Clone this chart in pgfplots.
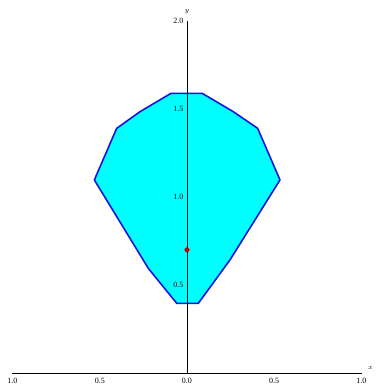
\documentclass[border=0pt]{standalone}
\usepackage{fontspec}
\setmainfont{Liberation Serif}
\usepackage{pgfplots}
\pgfplotsset{compat=1.18}

\definecolor{fillcyan}{RGB}{0,255,255}
\definecolor{edgeblue}{RGB}{20,20,220}
\definecolor{dotred}{RGB}{200,0,0}

\begin{document}
\begin{tikzpicture}
  \begin{axis}[
    name=ax,
    set layers,
    scale only axis,
    width=349pt, height=352pt,
    xmin=-1, xmax=1, ymin=0, ymax=2,
    axis lines=middle,
    axis line style={-, black, line width=0.8pt},
    hide obscured x ticks=false,
    hide obscured y ticks=false,
    xtick={-1,-0.5,0,0.5,1},
    xticklabels={1.0,0.5,0.0,0.5,1.0},
    ytick={0.5,1,1.5,2},
    yticklabels={0.5,1.0,1.5,2.0},
    major tick length=0pt,
    tick label style={font=\footnotesize},
    xticklabel style={yshift=-2pt},
    clip=false,
    xlabel={$x$}, ylabel={$y$},
    every axis x label/.style={at={(axis description cs:1,0)}, anchor=south west, font=\scriptsize, xshift=3pt},
    every axis y label/.style={at={(axis description cs:0.5,1)}, anchor=south, font=\scriptsize, yshift=4pt},
  ]
    % region, below the axis lines and labels
    \addplot[fill=fillcyan, draw=edgeblue, line width=1.6pt, line join=round, on layer=axis background] coordinates {
      (-0.059,0.396) (0.065,0.396) (0.246,0.642) (0.533,1.097) (0.405,1.39)
      (0.265,1.485) (0.087,1.589) (-0.092,1.589) (-0.269,1.485) (-0.403,1.39)
      (-0.531,1.097) (-0.222,0.595) (-0.059,0.396)
    } -- cycle;
    % point
    \addplot[only marks, mark=*, mark size=2.3pt, color=dotred] coordinates {(0,0.70)};
  \end{axis}
  \path (ax.south west) ++(-12.5pt,-16pt) rectangle (ax.north east) ++(19.5pt,21pt);
\end{tikzpicture}
\end{document}
